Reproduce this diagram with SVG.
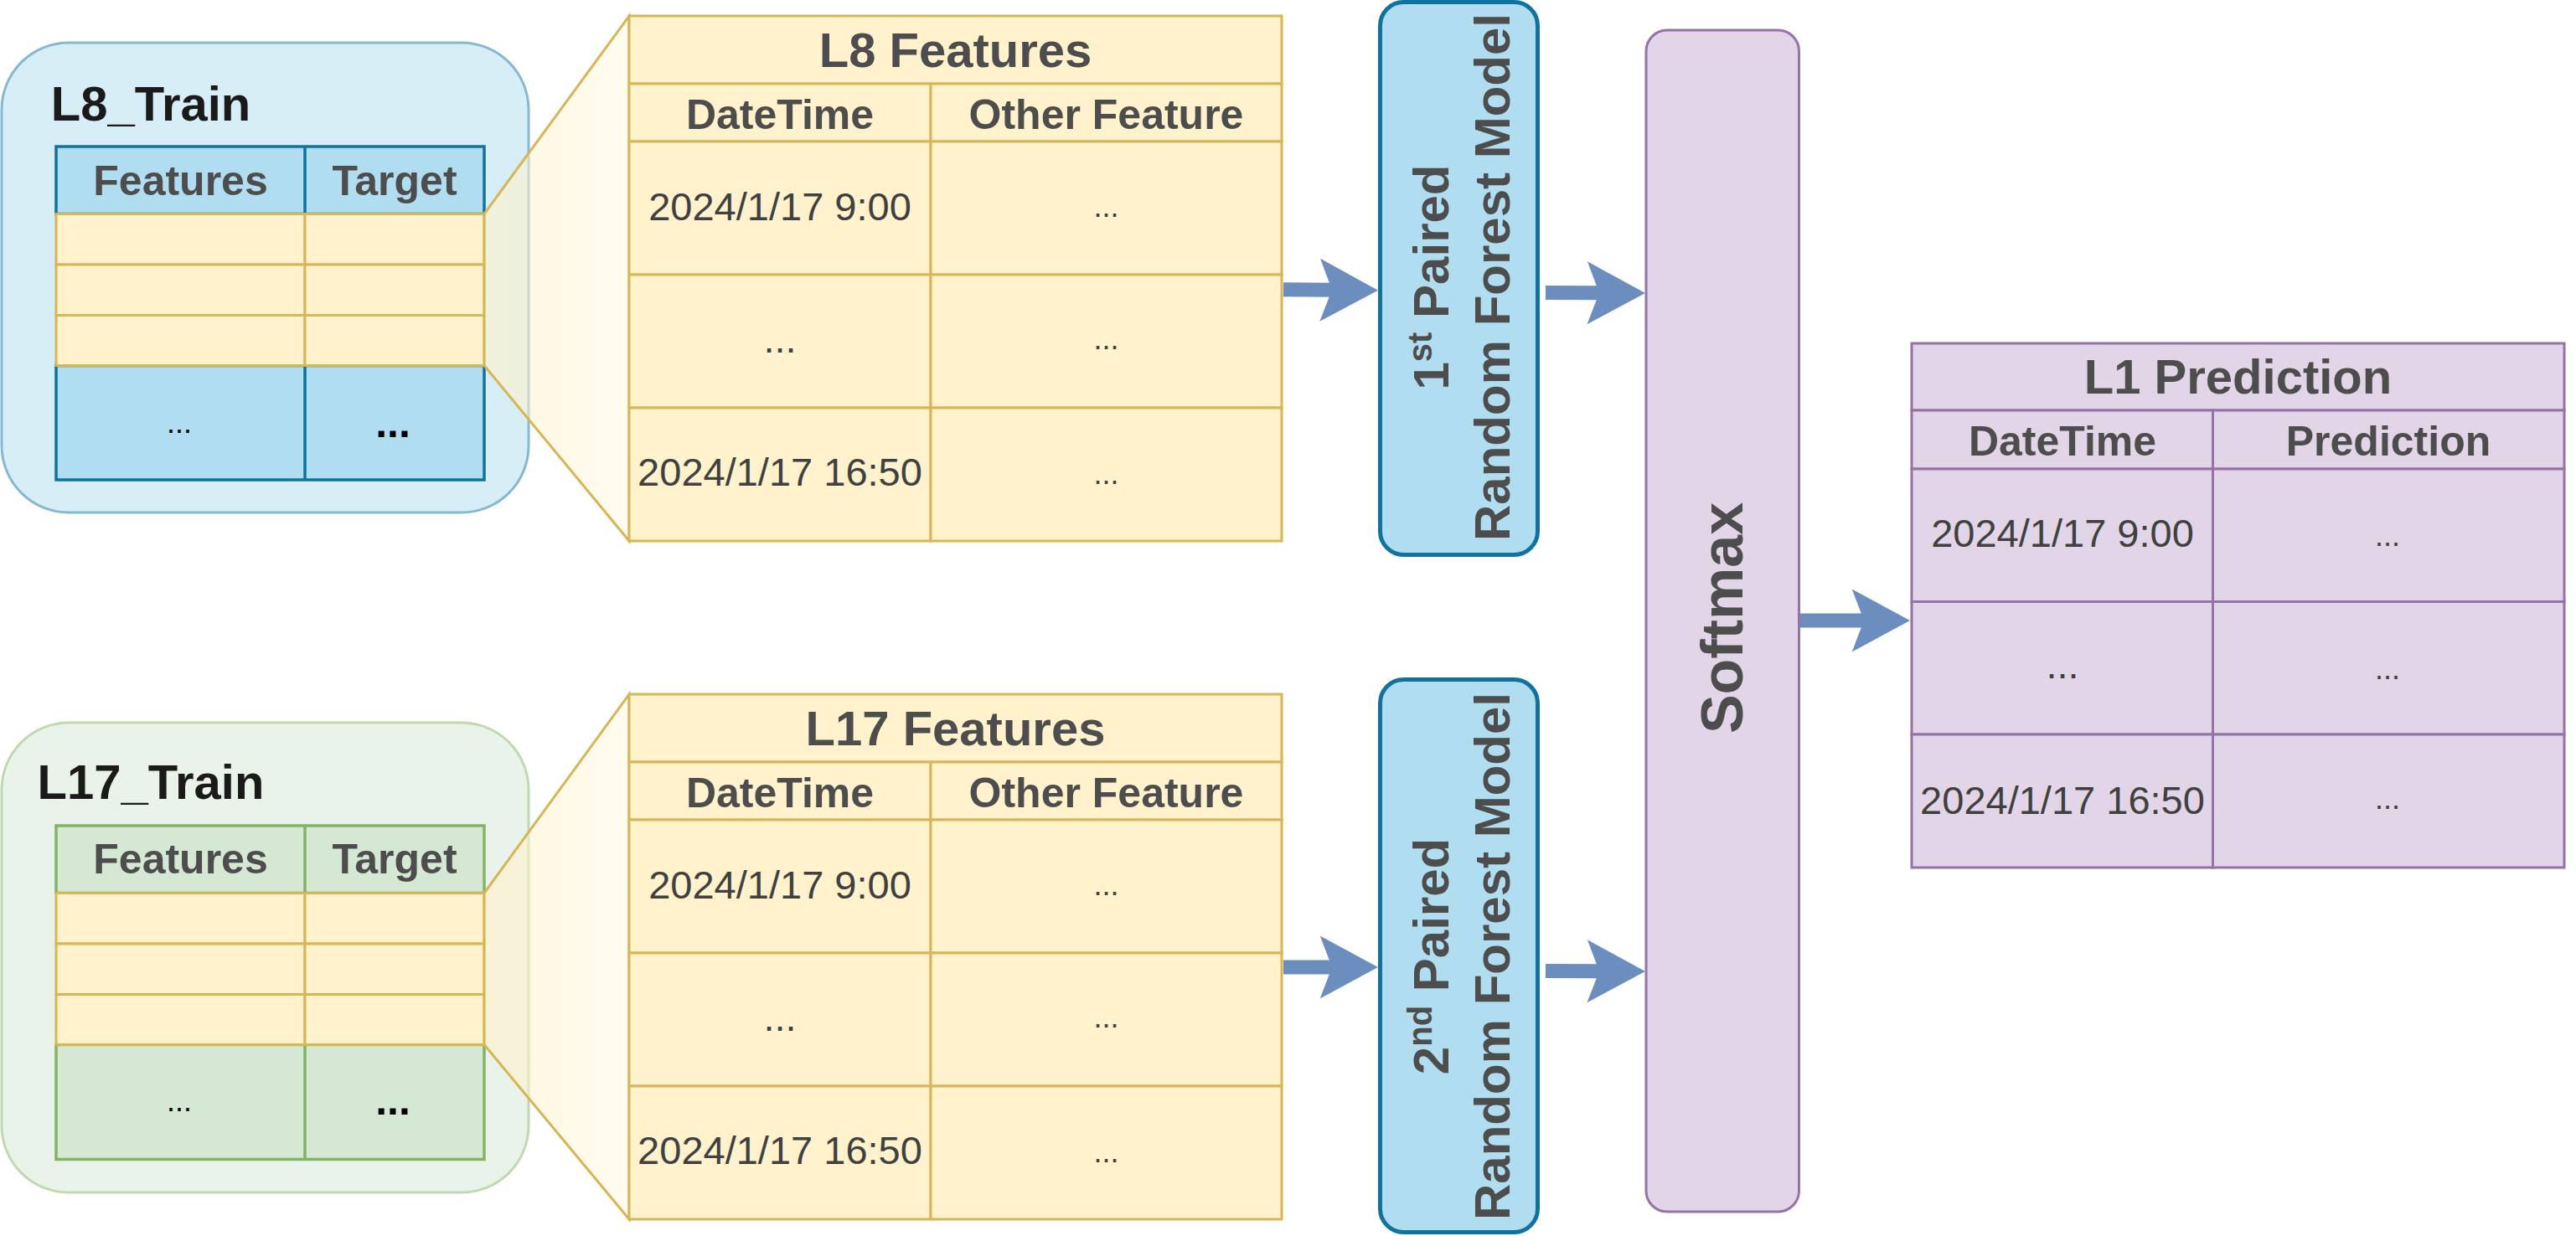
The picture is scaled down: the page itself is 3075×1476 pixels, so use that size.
<svg xmlns="http://www.w3.org/2000/svg" width="3075" height="1476" viewBox="0 0 3075 1476">
<defs>
<style>
text{font-family:"Liberation Sans",Arial,Helvetica,sans-serif;text-anchor:middle}
.cname{font-size:58px;font-weight:bold;fill:#1a1a1a}
.title{font-size:58px;font-weight:bold;fill:#4d4d4d}
.hdr{font-size:50px;font-weight:bold;fill:#4d4d4d}
.val{font-size:47px;fill:#404040}
.dots{font-size:36px;fill:#404040}
.kd{font-size:36px;fill:#000}
.kdb{font-size:50px;font-weight:bold;fill:#000}
.rot{font-size:60px;font-weight:bold;fill:#4d4d4d}
.sup{font-size:40px}
.smx{font-size:70px;font-weight:bold;fill:#4d4d4d}
.y{fill:#fff2cc;stroke:#d6b656;stroke-width:3}
.b{fill:#b1ddf0;stroke:#10739e;stroke-width:3.5}
.bl{stroke:#10739e;stroke-width:3.5}
.g{fill:#d5e8d4;stroke:#82b366;stroke-width:3.5}
.gl{stroke:#82b366;stroke-width:3.5}
.p{fill:#e1d5e7;stroke:#9673a6;stroke-width:3}
.rf{fill:#b1ddf0;stroke:#10739e;stroke-width:5}
.lens{fill:url(#lens);stroke:#d6b656;stroke-width:3}
.arrow{fill:none;stroke:#6c8ebf;stroke-width:17;marker-end:url(#ah)}
</style>
<marker id="ah" markerUnits="userSpaceOnUse" viewBox="-20 -40 80 80" markerWidth="80" markerHeight="80" refX="0" refY="0" orient="auto" overflow="visible">
<path d="M55,0 L-14.3,-37.5 L0,0 L-14.3,37.5 Z" fill="#6c8ebf"/>
</marker>
<linearGradient id="lens" gradientUnits="userSpaceOnUse" x1="578" y1="0" x2="751" y2="0">
<stop offset="0" stop-color="#fff2cc" stop-opacity="0.65"/>
<stop offset="1" stop-color="#fff2cc" stop-opacity="0.3"/>
</linearGradient>
</defs>
<rect width="3075" height="1476" fill="#ffffff"/>

<g id="l8-train">
<rect x="2" y="51" width="629" height="561" rx="80" fill="#d8eef7" stroke="#87b9ce" stroke-width="3"/>
<text class="cname" x="180" y="144">L8_Train</text>
<rect class="b" x="67" y="175" width="511" height="80.5"/>
<rect class="b" x="67" y="436.5" width="511" height="136.5"/>
<line class="bl" x1="364" y1="175" x2="364" y2="255.5"/>
<line class="bl" x1="364" y1="436.5" x2="364" y2="573"/>
<rect class="y" x="67" y="255.5" width="297" height="60.5"/>
<rect class="y" x="364" y="255.5" width="214" height="60.5"/>
<rect class="y" x="67" y="316" width="297" height="60.5"/>
<rect class="y" x="364" y="316" width="214" height="60.5"/>
<rect class="y" x="67" y="376.5" width="297" height="60"/>
<rect class="y" x="364" y="376.5" width="214" height="60"/>
<text class="hdr" x="215.5" y="233">Features</text>
<text class="hdr" x="471" y="233">Target</text>
<text class="kd" x="214" y="517">...</text>
<text class="kdb" x="469" y="522">...</text>
</g>

<g id="l17-train">
<rect x="2" y="863" width="629" height="561" rx="80" fill="#eaf3e9" stroke="#c0d9b2" stroke-width="3"/>
<text class="cname" x="180" y="954">L17_Train</text>
<rect class="g" x="67" y="986" width="511" height="80.5"/>
<rect class="g" x="67" y="1247.5" width="511" height="137"/>
<line class="gl" x1="364" y1="986" x2="364" y2="1066.5"/>
<line class="gl" x1="364" y1="1247.5" x2="364" y2="1384.5"/>
<rect class="y" x="67" y="1066.5" width="297" height="60.5"/>
<rect class="y" x="364" y="1066.5" width="214" height="60.5"/>
<rect class="y" x="67" y="1127" width="297" height="60.5"/>
<rect class="y" x="364" y="1127" width="214" height="60.5"/>
<rect class="y" x="67" y="1187.5" width="297" height="60"/>
<rect class="y" x="364" y="1187.5" width="214" height="60"/>
<text class="hdr" x="215.5" y="1043">Features</text>
<text class="hdr" x="471" y="1043">Target</text>
<text class="kd" x="214" y="1327">...</text>
<text class="kdb" x="469" y="1331">...</text>
</g>

<g id="l8-lens">
<polygon class="lens" points="578,255.5 751,19 751,646 578,436.5"/>
</g>
<g id="l17-lens">
<polygon class="lens" points="578,1066.5 751,829 751,1456 578,1247.5"/>
</g>

<g id="l8-features">
<rect class="y" x="751" y="19" width="779" height="81"/>
<rect class="y" x="751" y="100" width="360" height="69"/>
<rect class="y" x="1111" y="100" width="419" height="69"/>
<rect class="y" x="751" y="169" width="360" height="159"/>
<rect class="y" x="1111" y="169" width="419" height="159"/>
<rect class="y" x="751" y="328" width="360" height="159"/>
<rect class="y" x="1111" y="328" width="419" height="159"/>
<rect class="y" x="751" y="487" width="360" height="159"/>
<rect class="y" x="1111" y="487" width="419" height="159"/>
<text class="title" x="1140.5" y="80">L8 Features</text>
<text class="hdr" x="931" y="154">DateTime</text>
<text class="hdr" x="1320.5" y="154">Other Feature</text>
<text class="val" x="931" y="263">2024/1/17 9:00</text>
<text class="dots" x="1320.5" y="259">...</text>
<text class="val" x="931" y="421">...</text>
<text class="dots" x="1320.5" y="417">...</text>
<text class="val" x="931" y="580">2024/1/17 16:50</text>
<text class="dots" x="1320.5" y="578">...</text>
</g>

<g id="l17-features">
<rect class="y" x="751" y="829" width="779" height="81"/>
<rect class="y" x="751" y="910" width="360" height="69"/>
<rect class="y" x="1111" y="910" width="419" height="69"/>
<rect class="y" x="751" y="979" width="360" height="159"/>
<rect class="y" x="1111" y="979" width="419" height="159"/>
<rect class="y" x="751" y="1138" width="360" height="159"/>
<rect class="y" x="1111" y="1138" width="419" height="159"/>
<rect class="y" x="751" y="1297" width="360" height="159"/>
<rect class="y" x="1111" y="1297" width="419" height="159"/>
<text class="title" x="1140.5" y="890">L17 Features</text>
<text class="hdr" x="931" y="964">DateTime</text>
<text class="hdr" x="1320.5" y="964">Other Feature</text>
<text class="val" x="931" y="1073">2024/1/17 9:00</text>
<text class="dots" x="1320.5" y="1069">...</text>
<text class="val" x="931" y="1231">...</text>
<text class="dots" x="1320.5" y="1227">...</text>
<text class="val" x="931" y="1390">2024/1/17 16:50</text>
<text class="dots" x="1320.5" y="1388">...</text>
</g>

<g id="rf1">
<rect class="rf" x="1647.5" y="2.5" width="188" height="660" rx="28"/>
<text class="rot" transform="translate(1729,331) rotate(-90)">1<tspan class="sup" dy="-20">st</tspan><tspan dy="20"> Paired</tspan></text>
<text class="rot" transform="translate(1802,331) rotate(-90)">Random Forest Model</text>
</g>

<g id="rf2">
<rect class="rf" x="1647.5" y="811.5" width="188" height="660" rx="28"/>
<text class="rot" transform="translate(1729,1142) rotate(-90)">2<tspan class="sup" dy="-20">nd</tspan><tspan dy="20"> Paired</tspan></text>
<text class="rot" transform="translate(1802,1142) rotate(-90)">Random Forest Model</text>
</g>

<g id="softmax">
<rect class="p" x="1965" y="36" width="182.5" height="1411" rx="25"/>
<text class="smx" transform="translate(2080,738) rotate(-90)">Softmax</text>
</g>

<g id="l1-prediction">
<rect class="p" x="2282" y="410" width="779" height="80"/>
<rect class="p" x="2282" y="490" width="359.5" height="70"/>
<rect class="p" x="2641.5" y="490" width="419.5" height="70"/>
<rect class="p" x="2282" y="560" width="359.5" height="158.5"/>
<rect class="p" x="2641.5" y="560" width="419.5" height="158.5"/>
<rect class="p" x="2282" y="718.5" width="359.5" height="158.5"/>
<rect class="p" x="2641.5" y="718.5" width="419.5" height="158.5"/>
<rect class="p" x="2282" y="877" width="359.5" height="159"/>
<rect class="p" x="2641.5" y="877" width="419.5" height="159"/>
<text class="title" x="2671.5" y="469.5">L1 Prediction</text>
<text class="hdr" x="2462" y="544">DateTime</text>
<text class="hdr" x="2851" y="544">Prediction</text>
<text class="val" x="2462" y="653">2024/1/17 9:00</text>
<text class="dots" x="2850" y="652">...</text>
<text class="val" x="2462" y="810">...</text>
<text class="dots" x="2850" y="811">...</text>
<text class="val" x="2462" y="972">2024/1/17 16:50</text>
<text class="dots" x="2850" y="966">...</text>
</g>

<g id="connectors">
<path class="arrow" d="M1532,345.7 L1590,346.3"/>
<path class="arrow" d="M1845,349.5 L1909,349.8"/>
<path class="arrow" d="M1532,1155 L1590,1155"/>
<path class="arrow" d="M1845,1159.5 L1909,1159.8"/>
<path class="arrow" d="M2149,741 L2225,741"/>
</g>
</svg>
